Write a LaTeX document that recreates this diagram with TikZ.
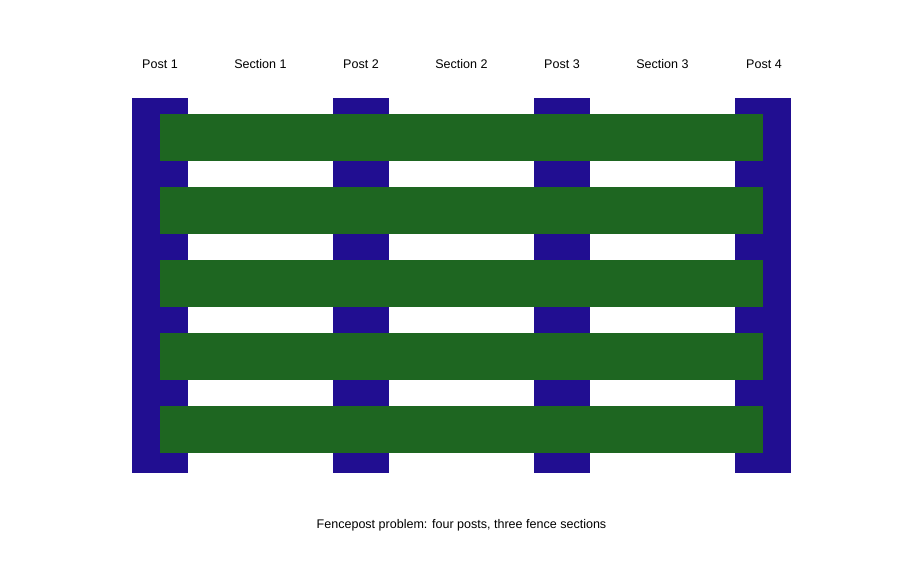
\documentclass[tikz,border=0pt]{standalone}
\usepackage{fontspec}
\setmainfont{Liberation Sans}
\definecolor{postblue}{HTML}{210E91}
\definecolor{railgreen}{HTML}{1E6621}

\begin{document}
\begin{tikzpicture}[
  x=0.75pt, y=-0.75pt,
  post/.style={fill=postblue, draw=none},
  rail/.style={fill=railgreen, draw=none},
  lbl/.style={font=\fontsize{9.4pt}{11pt}\selectfont, text=black, inner sep=0pt}
]
\useasboundingbox (0,0) rectangle (923,572);
% posts
\foreach \px in {132,333,534,735}
  \fill[post] (\px,98) rectangle ++(56,375);
% rails
\foreach \ry in {114,187,260,333,406}
  \fill[rail] (160,\ry) rectangle (763,\ry+47);
% labels
\node[lbl] (p1) at (160,64) {Post 1};
\node[lbl] (s1) at (260.5,64) {Section 1};
\node[lbl] (p2) at (361,64) {Post 2};
\node[lbl] (s2) at (461.5,64) {Section 2};
\node[lbl] (p3) at (562,64) {Post 3};
\node[lbl] (s3) at (662.5,64) {Section 3};
\node[lbl] (p4) at (764,64) {Post 4};
\node[lbl] (cap) at (461.5,525) {Fencepost problem: four posts, three fence sections};
\end{tikzpicture}
\end{document}
